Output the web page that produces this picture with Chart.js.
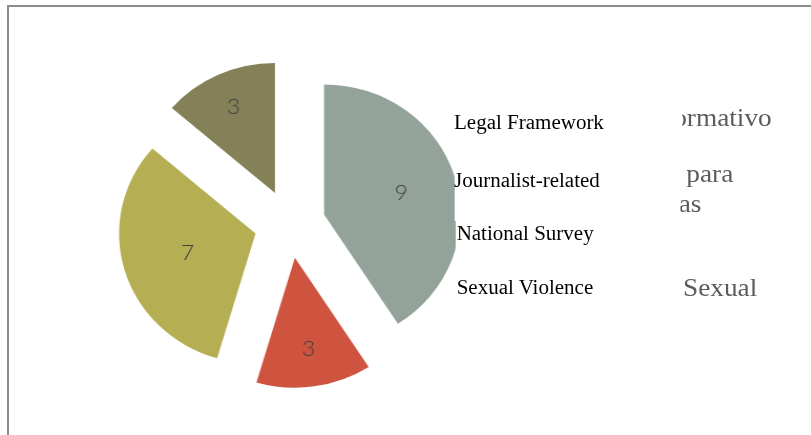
<!DOCTYPE html>
<html>
<head>
<meta charset="utf-8">
<script src="https://cdn.jsdelivr.net/npm/chart.js@4/dist/chart.umd.min.js"></script>
<style>
  html, body { margin: 0; padding: 0; background: #fff; }
  body { width: 811px; height: 435px; overflow: hidden; position: relative; }
  #frame { position: absolute; left: 7px; top: 5px; width: 900px; height: 500px;
           border-top: 2px solid #8c8c8c; border-left: 2px solid #8c8c8c; }
  #stage { position: absolute; left: 0; top: 0; width: 773px; height: 435px;
           transform: scaleX(1.05); transform-origin: 0 0; }
  #pie { position: absolute; left: 95.7px; top: 44px; }
  .es { position: absolute; white-space: nowrap; font-family: "Liberation Serif", "Times New Roman", serif;
        font-size: 26px; line-height: 26px; color: #5c5c5c; }
  .box { position: absolute; background: #fff; }
  .en { position: absolute; white-space: nowrap; font-family: "Liberation Serif", "Times New Roman", serif;
        font-size: 20px; line-height: 20px; color: #000; }
</style>
</head>
<body>
<div id="frame"></div>
<div id="stage">
  <canvas id="pie" width="360" height="360"></canvas>
</div>
<script>
// Report themes and how many items fall under each
const categories = ['Legal Framework', 'Journalist-related', 'National Survey', 'Sexual Violence'];
const counts = [9, 3, 7, 3];
// Spanish legend lines sitting underneath the English captions
const spanishLines = ['Marco Normativo', 'Protección para', 'Periodistas', 'Violencia Sexual'];

const sliceColors = ['#93a399', '#cf543f', '#b5ae53', '#848058'];
const explode = 136;            // arc offset (Chart.js translates by offset / 4)
const labelDepth = [0.59, 0.71, 0.52, 0.73];

// Text layout on the stage
const stage = document.getElementById('stage');
function put(cls, text, css) {
  const d = document.createElement('div');
  d.className = cls;
  if (text) d.textContent = text;
  Object.assign(d.style, css);
  stage.appendChild(d);
}
const esRight = [735, 698.4, 668, 721.2];
const esTop = [105.2, 161.2, 191.2, 275.2];
spanishLines.forEach((t, i) => put('es', t, { right: (773 - esRight[i]) + 'px', top: esTop[i] + 'px' }));

const boxes = [
  { left: 430, top: 100, right: 650, bottom: 168 },
  { left: 432.7, top: 168, right: 648.5, bottom: 221 },
  { left: 434.3, top: 221, right: 650, bottom: 268 },
  { left: 434.3, top: 268, right: 648, bottom: 320 }
];
boxes.forEach(b => put('box', '', { left: b.left + 'px', top: b.top + 'px',
  width: (b.right - b.left) + 'px', height: (b.bottom - b.top) + 'px' }));

const enLeft = [432.4, 432.4, 434.9, 434.9];
const enTop = [112.25, 170.25, 223.25, 277.25];
categories.forEach((t, i) => put('en', t, { left: enLeft[i] + 'px', top: enTop[i] + 'px' }));

// Keep every exploded wedge at the same visible radius and full angular width
const evenRadius = {
  id: 'evenRadius',
  afterDatasetsUpdate(chart) {
    chart.getDatasetMeta(0).data.forEach(arc => {
      const shift = (arc.options.offset || 0) / 4;
      const fix = 1 - Math.sin(Math.min(Math.PI, arc.circumference));
      const grow = shift * fix;
      const visibleR = arc.outerRadius;
      arc.outerRadius -= grow;
      const trim = grow / (2 * Math.PI * visibleR);
      arc.startAngle -= trim;
      arc.endAngle += trim;
    });
  }
};

// Value labels inside the wedges
const valueLabels = {
  id: 'valueLabels',
  afterDatasetsDraw(chart) {
    const ctx = chart.ctx;
    const meta = chart.getDatasetMeta(0);
    ctx.save();
    ctx.font = '300 22px Lato, "DejaVu Sans", sans-serif';
    ctx.fillStyle = '#404040';
    ctx.textAlign = 'center';
    ctx.textBaseline = 'middle';
    meta.data.forEach((arc, i) => {
      const shift = (arc.options.offset || 0) / 4;
      const fix = 1 - Math.sin(Math.min(Math.PI, arc.circumference));
      const visibleR = arc.outerRadius + shift * fix;
      const mid = (arc.startAngle + arc.endAngle) / 2;
      const r = shift + visibleR * labelDepth[i];
      ctx.fillText(String(counts[i]), arc.x + Math.cos(mid) * r, arc.y + Math.sin(mid) * r);
    });
    ctx.restore();
  }
};

new Chart(document.getElementById('pie'), {
  type: 'pie',
  data: {
    labels: categories,
    datasets: [{
      data: counts,
      backgroundColor: sliceColors,
      borderWidth: 0,
      offset: explode,
      hoverOffset: 0
    }]
  },
  options: {
    responsive: false,
    devicePixelRatio: 1,
    animation: false,
    radius: 130,
    layout: { padding: 0 },
    plugins: { legend: { display: false }, tooltip: { enabled: false } }
  },
  plugins: [evenRadius, valueLabels]
});
</script>
</body>
</html>
